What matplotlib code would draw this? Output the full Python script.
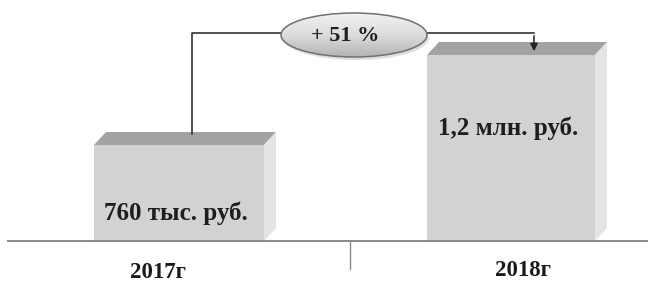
import matplotlib
matplotlib.use("Agg")
import matplotlib.pyplot as plt
import numpy as np
from matplotlib.colors import LinearSegmentedColormap
from matplotlib.patches import Ellipse, Polygon

# data
years = ["2017г", "2018г"]
value_labels = ["760 тыс. руб.", "1,2 млн. руб."]
bar_heights = [96, 186]          # drawn height of each box (picture units)
growth_label = "+ 51 %"

# layout (picture units, baseline at 0)
bar_x = [179, 511]
bar_w = [170, 168]
depth_x, depth_y = 12, 13

plt.rcParams["font.family"] = ["Liberation Serif", "DejaVu Serif"]

fig = plt.figure(figsize=(6.48, 2.86), dpi=100)
ax = fig.add_axes([0, 0, 1, 1])
ax.set_xlim(0, 648)
ax.set_ylim(-45, 241)
ax.axis("off")

bars = ax.bar(bar_x, bar_heights, width=bar_w, color="#d2d2d2", edgecolor="none", zorder=2)

for rect in bars:
    x0 = rect.get_x()
    x1 = x0 + rect.get_width()
    h = rect.get_height()
    top = Polygon([(x0, h), (x1, h), (x1 + depth_x, h + depth_y), (x0 + depth_x, h + depth_y)],
                  closed=True, facecolor="#a3a3a3", edgecolor="none", zorder=2)
    side = Polygon([(x1, 0), (x1, h), (x1 + depth_x, h + depth_y), (x1 + depth_x, depth_y)],
                   closed=True, facecolor="#e4e4e4", edgecolor="none", zorder=2)
    ax.add_patch(top)
    ax.add_patch(side)

# baseline and divider
ax.plot([8, 648], [0, 0], color="#8a8a8a", lw=1.4, zorder=3)
ax.plot([350, 350], [0, -28], color="#8a8a8a", lw=1.0, zorder=3)

for xc, lab, dy in zip([158, 523], years, [-32, -30]):
    ax.text(xc, dy, lab, ha="center", va="center", fontsize=16.5, fontweight="bold", color="#1a1a1a")

ax.text(176, 28, value_labels[0], ha="center", va="center", fontsize=18, fontweight="bold", color="#1e1e1e", zorder=4)
ax.text(508, 113, value_labels[1], ha="center", va="center", fontsize=18, fontweight="bold", color="#1e1e1e", zorder=4)

# connector from the first box to the second
ell_cx, ell_cy, ell_w, ell_h = 354, 206, 146, 44
line_y = 208
ax.plot([192, 192, ell_cx - ell_w / 2], [bar_heights[0] + depth_y - 2, line_y, line_y],
        color="#222222", lw=1.1, zorder=3)
ax.annotate("", xy=(534, bar_heights[1] + 1), xytext=(534, line_y),
            arrowprops=dict(arrowstyle="-|>", color="#222222", lw=1.1, mutation_scale=11),
            zorder=3)
ax.plot([ell_cx + ell_w / 2, 534], [line_y, line_y], color="#222222", lw=1.1, zorder=3)

# oval with the growth figure
shadow = Ellipse((ell_cx + 2, ell_cy - 3), ell_w, ell_h, facecolor="#dedede", edgecolor="none", zorder=4)
ax.add_patch(shadow)
oval = Ellipse((ell_cx, ell_cy), ell_w, ell_h, facecolor="none", edgecolor="#707070", lw=1.1, zorder=6)
ax.add_patch(oval)
oval_cmap = LinearSegmentedColormap.from_list("oval", ["#f2f2f2", "#dcdcdc", "#b4b4b4"])
grad = np.linspace(0, 1, 100).reshape(-1, 1)
img = ax.imshow(grad, cmap=oval_cmap, aspect="auto",
                extent=(ell_cx - ell_w / 2, ell_cx + ell_w / 2, ell_cy - ell_h / 2, ell_cy + ell_h / 2),
                origin="upper", zorder=5)
img.set_clip_path(Ellipse((ell_cx, ell_cy), ell_w, ell_h, transform=ax.transData))
ax.text(ell_cx - 9, ell_cy - 1, growth_label, ha="center", va="center", fontsize=16,
        fontweight="bold", color="#1e1e1e", zorder=7)

fig.savefig("out.png", dpi=100)
